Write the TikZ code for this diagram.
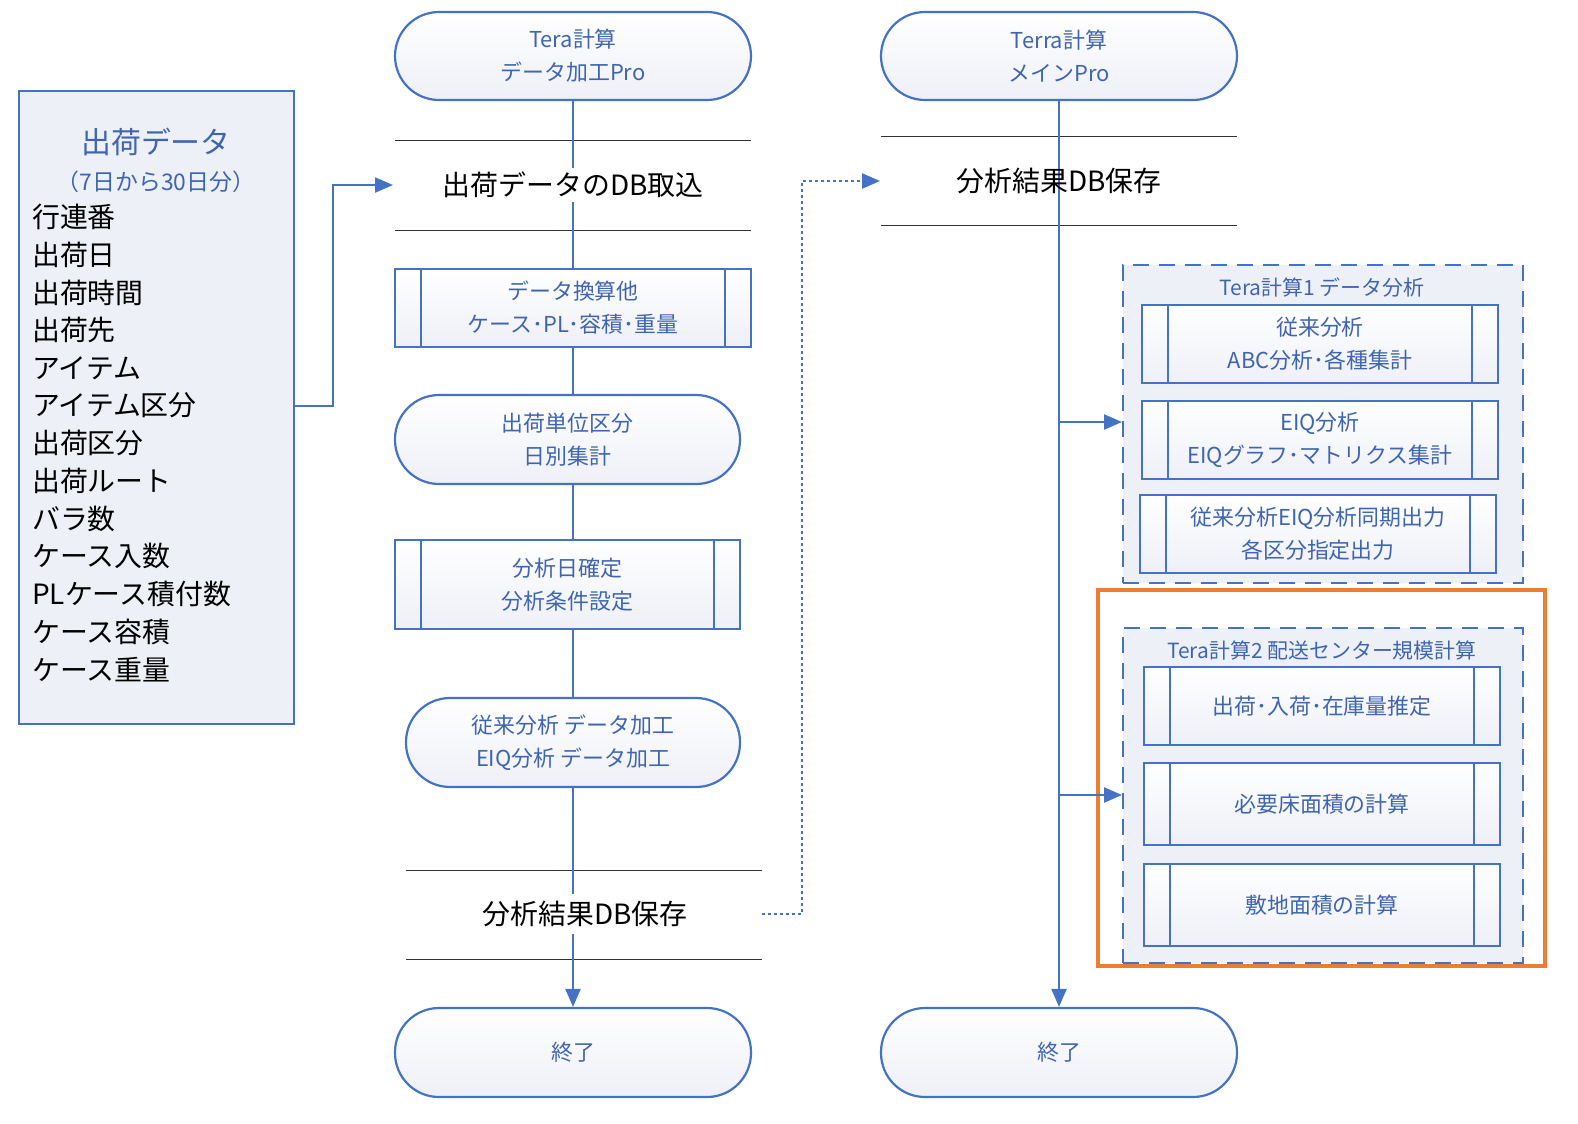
\documentclass[tikz,border=0pt]{standalone}
\usepackage{fontspec}
\setmainfont{Noto Sans CJK JP}
\usetikzlibrary{arrows.meta}
\definecolor{bl}{HTML}{4472C4}
\definecolor{tx}{HTML}{3F65B0}
\definecolor{gf}{HTML}{EEF0F7}
\definecolor{org}{HTML}{ED7D31}
\begin{document}
\begin{tikzpicture}[x=1bp,y=-1bp,
  line/.style={bl,line width=2.2bp},
  arr/.style={line,-{Triangle[length=18bp,width=15bp]}},
  term/.style={draw=bl,line width=2.2bp,rounded corners=44bp,top color=white,bottom color=gf,text=tx,font=\fontsize{22}{33}\selectfont,align=center,inner sep=0},
  proc/.style={draw=bl,line width=2.2bp,top color=white,bottom color=gf,text=tx,font=\fontsize{22}{33}\selectfont,align=center,inner sep=0},
  big/.style={font=\fontsize{28}{33}\selectfont,text=black},
  grp/.style={draw=bl,line width=2.2bp,dash pattern=on 16bp off 10bp,fill=gf},
  gt/.style={text=tx,font=\fontsize{21}{24}\selectfont}]
\useasboundingbox (0,0) rectangle (1578,1123);
% left data box
\node[draw=bl,line width=2.2bp,fill=gf,minimum width=275bp,minimum height=633bp,anchor=north west] (data) at (18,90) {};
\node[text=tx,font=\fontsize{30}{33}\selectfont] (dt) at (156,142) {出荷データ};
\node[text=tx,font=\fontsize{23}{26}\selectfont] (dr) at (156,182) {（7日から30日分）};
\foreach \t [count=\i from 0] in {行連番,出荷日,出荷時間,出荷先,アイテム,アイテム区分,出荷区分,出荷ルート,バラ数,ケース入数,PLケース積付数,ケース容積,ケース重量}
  \node[big,anchor=west,inner sep=0] (l\i) at (32,217+37.7*\i) {\t};
% column 1
\node[term,minimum width=356bp,minimum height=88bp] (t1) at (573,56) {Tera計算\\データ加工Pro};
\coordinate (h1a) at (395,140); \coordinate (h1b) at (751,140);
\coordinate (h2a) at (395,230); \coordinate (h2b) at (751,230);
\draw[black!80,line width=1bp] (h1a)--(h1b) (h2a)--(h2b);
\node[big,fill=white] (imp) at (573,185) {出荷データのDB取込};
\node[proc,minimum width=356bp,minimum height=78bp] (p1) at (573,308) {データ換算他\\ケース･PL･容積･重量};
\node[term,minimum width=345bp,minimum height=89bp] (s1) at (567.5,439.5) {出荷単位区分\\日別集計};
\node[proc,minimum width=345bp,minimum height=89bp] (p2) at (567.5,584.5) {分析日確定\\分析条件設定};
\node[term,minimum width=334bp,minimum height=89bp] (s2) at (573,742.5) {従来分析 データ加工\\EIQ分析 データ加工};
\coordinate (h3a) at (406,870); \coordinate (h3b) at (762,870);
\coordinate (h4a) at (406,959); \coordinate (h4b) at (762,959);
\draw[black!80,line width=1bp] (h3a)--(h3b) (h4a)--(h4b);
\node[big] (sv1) at (585,914) {分析結果DB保存};
\node[term,minimum width=356bp,minimum height=89bp] (e1) at (573,1052.5) {終了};
\draw[line] (t1.south)--(imp.north) (imp.south)--(p1.north) (p1.south)--(573,395) (573,484)--(573,540) (573,629)--(s2.north) (s2.south)--(573,894);
\draw[arr] (573,934)--(e1.north);
\foreach \n in {p1,p2}{
  \draw[bl,line width=2.2bp] ([xshift=27bp]\n.north west)--([xshift=27bp]\n.south west) ([xshift=-27bp]\n.north east)--([xshift=-27bp]\n.south east);}
% data connector
\coordinate (c1) at (333,406); \coordinate (c2) at (333,185);
\draw[arr] (data.east |- c1)--(c1)--(c2)--(393,185);
% dotted
\coordinate (d1) at (802,914); \coordinate (d2) at (802,181);
\draw[bl,line width=2.5bp,dash pattern=on 3bp off 3bp,-{Triangle[length=18bp,width=15bp]}] (762,914)--(d1)--(d2)--(880,181);
% column 2
\node[term,minimum width=356bp,minimum height=88bp] (t2) at (1059,56) {Terra計算\\メインPro};
\node[term,minimum width=356bp,minimum height=89bp] (e2) at (1059,1052.5) {終了};
\draw[black!80,line width=1bp] (881,136)--(1237,136) (881,225)--(1237,225);
\draw[arr] (t2.south)--(e2.north);
\node[big] (sv2) at (1059,181) {分析結果DB保存};
% group 1
\node[grp,minimum width=400bp,minimum height=318bp,anchor=north west] (g1) at (1122,264) {};
\node[gt] (g1t) at (1322,287) {Tera計算1 データ分析};
\node[proc,minimum width=356bp,minimum height=78bp] (q1) at (1320,344) {従来分析\\ABC分析･各種集計};
\node[proc,minimum width=356bp,minimum height=78bp] (q2) at (1320,440) {EIQ分析\\EIQグラフ･マトリクス集計};
\node[proc,minimum width=356bp,minimum height=78bp] (q3) at (1318,534) {従来分析EIQ分析同期出力\\各区分指定出力};
% group 2
\node[draw=org,line width=4bp,minimum width=447bp,minimum height=376bp,anchor=north west] (or) at (1096,588) {};
\node[grp,minimum width=400bp,minimum height=335bp,anchor=north west] (g2) at (1122,627) {};
\node[gt] (g2t) at (1322,650) {Tera計算2 配送センター規模計算};
\node[proc,minimum width=356bp,minimum height=78bp] (r1) at (1322,706) {出荷･入荷･在庫量推定};
\node[proc,minimum width=356bp,minimum height=82bp] (r2) at (1322,804) {必要床面積の計算};
\node[proc,minimum width=356bp,minimum height=82bp] (r3) at (1322,905) {敷地面積の計算};
\foreach \n in {q1,q2,q3,r1,r2,r3}{
  \draw[bl,line width=2.2bp] ([xshift=27bp]\n.north west)--([xshift=27bp]\n.south west) ([xshift=-27bp]\n.north east)--([xshift=-27bp]\n.south east);}
\coordinate (a1) at (1059,422); \coordinate (a2) at (1059,795);
\draw[arr] (a1)--(g1.west |- a1);
\draw[arr] (a2)--(g2.west |- a2);
\end{tikzpicture}
\end{document}
